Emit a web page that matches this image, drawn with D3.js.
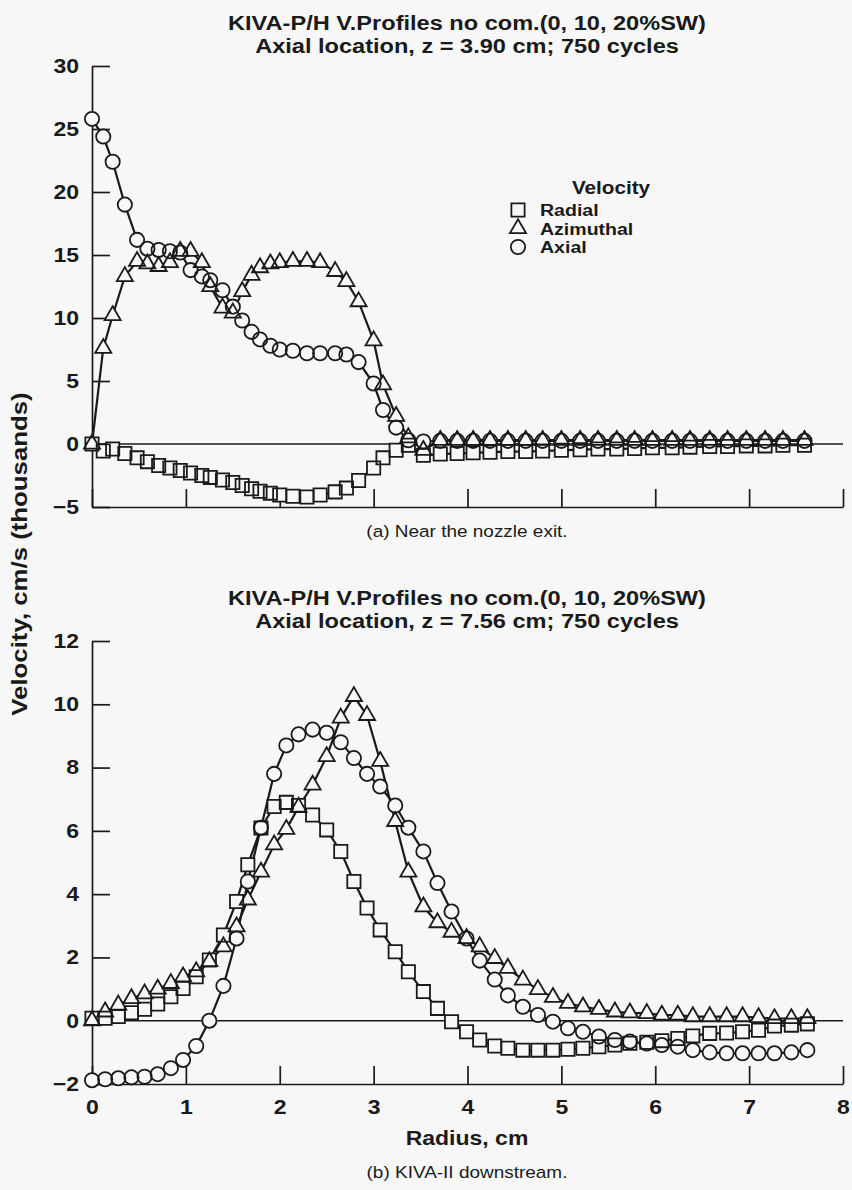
<!DOCTYPE html>
<html>
<head>
<meta charset="utf-8">
<script src="https://cdn.jsdelivr.net/npm/d3@7"></script>
<style>
  body { margin: 0; background: #f7f7f7; }
  text { font-family: "Liberation Sans", Arial, Helvetica, sans-serif; fill: #1a1a1a; }
</style>
</head>
<body>
<svg id="fig" width="852" height="1190"></svg>
<script>
// ---- data ----
// (a) z = 3.90 cm
var radiusTop = [0, 0.12, 0.22, 0.35, 0.48, 0.59, 0.71, 0.83, 0.94, 1.05, 1.17, 1.26, 1.39, 1.50, 1.60,
  1.70, 1.79, 1.90, 2.00, 2.14, 2.29, 2.43, 2.59, 2.71, 2.84, 3.00, 3.10, 3.24, 3.37, 3.53,
  3.71, 3.89, 4.06, 4.24, 4.43, 4.62, 4.80, 5.00, 5.20, 5.39, 5.59, 5.78, 5.97, 6.18, 6.37,
  6.58, 6.77, 6.97, 7.17, 7.36, 7.59];
var radialTop = [0, -0.55, -0.4, -0.75, -1.1, -1.4, -1.7, -1.9, -2.1, -2.3, -2.5, -2.65, -2.85, -3.05, -3.3,
  -3.55, -3.75, -3.9, -4.05, -4.15, -4.2, -4.05, -3.8, -3.5, -2.9, -1.9, -1.1, -0.5, -0.1, -0.9,
  -0.8, -0.75, -0.7, -0.65, -0.6, -0.6, -0.55, -0.5, -0.45, -0.4, -0.4, -0.35, -0.3, -0.3, -0.25,
  -0.2, -0.2, -0.15, -0.15, -0.1, -0.1];
var azimuthalTop = [0, 7.6, 10.2, 13.3, 14.5, 14.3, 14.1, 14.4, 15.3, 15.3, 14.4, 12.5, 10.8, 10.4, 12.1,
  13.4, 14.0, 14.3, 14.4, 14.5, 14.5, 14.4, 13.7, 12.9, 11.3, 8.2, 4.7, 2.2, 0.5, -0.5,
  0.3, 0.3, 0.3, 0.3, 0.3, 0.3, 0.3, 0.3, 0.3, 0.3, 0.3, 0.3, 0.3, 0.3, 0.3,
  0.3, 0.3, 0.3, 0.3, 0.3, 0.3];
var axialTop = [25.8, 24.4, 22.4, 19.0, 16.2, 15.5, 15.4, 15.3, 15.2, 13.8, 13.3, 13.0, 12.2, 10.9, 9.8,
  8.9, 8.3, 7.8, 7.5, 7.4, 7.2, 7.2, 7.2, 7.1, 6.5, 4.8, 2.7, 1.3, 0.3, 0.2,
  0.25, 0.25, 0.25, 0.25, 0.25, 0.25, 0.25, 0.25, 0.25, 0.25, 0.25, 0.25, 0.25, 0.25, 0.25,
  0.25, 0.25, 0.25, 0.25, 0.25, 0.25];

// (b) z = 7.56 cm
var radiusBot = [0, 0.14, 0.28, 0.42, 0.56, 0.70, 0.84, 0.97, 1.11, 1.25, 1.40, 1.54, 1.66, 1.80, 1.94,
  2.07, 2.20, 2.35, 2.50, 2.65, 2.79, 2.93, 3.07, 3.23, 3.37, 3.53, 3.68, 3.83, 3.99, 4.13,
  4.29, 4.43, 4.59, 4.75, 4.91, 5.07, 5.23, 5.40, 5.57, 5.73, 5.91, 6.07, 6.24, 6.40, 6.58,
  6.76, 6.93, 7.10, 7.27, 7.45, 7.62];
var radialBot = [0.08, 0.08, 0.13, 0.25, 0.36, 0.53, 0.76, 1.02, 1.39, 1.92, 2.71, 3.77, 4.93, 6.09, 6.77,
  6.9, 6.8, 6.5, 6.03, 5.35, 4.4, 3.56, 2.87, 2.18, 1.55, 0.92, 0.39, -0.03, -0.35, -0.61,
  -0.8, -0.87, -0.93, -0.93, -0.93, -0.9, -0.87, -0.82, -0.77, -0.71, -0.68, -0.63, -0.56, -0.48, -0.4,
  -0.39, -0.35, -0.3, -0.17, -0.14, -0.1];
var azimuthalBot = [0, 0.28, 0.5, 0.7, 0.85, 1.0, 1.18, 1.39, 1.55, 1.87, 2.34, 2.97, 3.82, 4.7, 5.56,
  6.05, 6.75, 7.45, 8.35, 9.57, 10.25, 9.65, 8.2, 6.3, 4.7, 3.6, 3.1, 2.8, 2.6, 2.34,
  1.97, 1.66, 1.29, 0.99, 0.74, 0.55, 0.44, 0.36, 0.28, 0.25, 0.23, 0.18, 0.18, 0.13, 0.13,
  0.13, 0.13, 0.1, 0.07, 0.07, 0.07];
var axialBot = [-1.88, -1.85, -1.82, -1.79, -1.77, -1.69, -1.5, -1.24, -0.8, 0.0, 1.1, 2.6, 4.4, 6.1, 7.8,
  8.7, 9.05, 9.2, 9.1, 8.8, 8.3, 7.8, 7.4, 6.8, 6.1, 5.35, 4.35, 3.45, 2.6, 1.9,
  1.3, 0.8, 0.44, 0.18, -0.03, -0.24, -0.35, -0.5, -0.61, -0.66, -0.72, -0.77, -0.82, -0.93, -1.0,
  -1.03, -1.03, -1.03, -1.03, -1.0, -0.93];

var xTicks = [0, 1, 2, 3, 4, 5, 6, 7, 8];
var yTicksTop = [-5, 0, 5, 10, 15, 20, 25, 30];
var yTicksBot = [-2, 0, 2, 4, 6, 8, 10, 12];
var seriesNames = ["Radial", "Azimuthal", "Axial"];

// ---- layout ----
var bg = "#f7f7f7", ink = "#1a1a1a";
var svg = d3.select("#fig");
svg.append("rect").attr("width", 852).attr("height", 1190).attr("fill", bg);

var x = d3.scaleLinear().domain([0, 8]).range([92, 843]);
var yTop = d3.scaleLinear().domain([-5, 30]).range([507, 66]);
var yBot = d3.scaleLinear().domain([-2, 12]).range([1084, 641]);

var symbols = {
  Radial: d3.symbol().type(d3.symbolSquare).size(175),
  Azimuthal: d3.symbol().type(d3.symbolTriangle).size(112),
  Axial: d3.symbol().type(d3.symbolCircle).size(160)
};

// the figure's lettering is wider than Liberation Sans, so text is stretched sideways
var stretch = 1.15;

function txt(parent, px, py, str, size, bold, anchor) {
  return parent.append("text")
    .attr("transform", "translate(" + px + "," + py + ") scale(" + stretch + ",1)")
    .attr("text-anchor", anchor || "middle")
    .style("font-size", size + "px")
    .style("font-weight", bold ? "bold" : "normal")
    .text(str);
}

function styleAxis(g, pad) {
  g.select(".domain").attr("stroke", ink).attr("stroke-width", 1.7);
  g.selectAll(".tick line").attr("stroke", ink).attr("stroke-width", 1.7);
  var t = g.selectAll(".tick text")
    .attr("fill", ink)
    .style("font-size", "20px")
    .style("font-weight", "bold")
    .style("font-family", "'Liberation Sans', Arial, sans-serif")
    .attr("transform", "scale(" + stretch + ",1)");
  if (pad) t.attr("x", -pad / stretch);
}

function drawPanel(xs, data, y, yTicks, showXLabels) {
  var g = svg.append("g");

  // zero line
  g.append("line")
    .attr("x1", x(0)).attr("x2", x(8))
    .attr("y1", y(0)).attr("y2", y(0))
    .attr("stroke", ink).attr("stroke-width", 1.6);

  var gx = g.append("g")
    .attr("transform", "translate(0," + y.range()[0] + ")")
    .call(d3.axisBottom(x).tickValues(xTicks).tickSize(-18).tickSizeOuter(0)
      .tickPadding(16)
      .tickFormat(showXLabels ? d3.format("d") : ""));
  styleAxis(gx, 0);

  var gy = g.append("g")
    .attr("transform", "translate(" + x(0) + ",0)")
    .call(d3.axisLeft(y).tickValues(yTicks).tickSize(-18).tickSizeOuter(0).tickPadding(13));
  styleAxis(gy, 13);

  var line = d3.line()
    .x(function(d) { return x(d[0]); })
    .y(function(d) { return y(d[1]); });

  var sets = seriesNames.map(function(name) {
    return { name: name, pts: xs.map(function(r, i) { return [r, data[name][i]]; }) };
  });

  // connecting lines first
  sets.forEach(function(s) {
    g.append("path").datum(s.pts)
      .attr("d", line)
      .attr("fill", "none")
      .attr("stroke", ink)
      .attr("stroke-width", 2.2);
  });
  // marker faces, then all outlines, so overlapping markers stay visible
  sets.forEach(function(s) {
    g.append("g").selectAll("path").data(s.pts).enter().append("path")
      .attr("d", symbols[s.name])
      .attr("transform", function(d) { return "translate(" + x(d[0]) + "," + y(d[1]) + ")"; })
      .attr("fill", bg);
  });
  sets.forEach(function(s) {
    g.append("g").selectAll("path").data(s.pts).enter().append("path")
      .attr("d", symbols[s.name])
      .attr("transform", function(d) { return "translate(" + x(d[0]) + "," + y(d[1]) + ")"; })
      .attr("fill", "none")
      .attr("stroke", ink)
      .attr("stroke-width", 1.8);
  });
  return g;
}

drawPanel(radiusTop, { Radial: radialTop, Azimuthal: azimuthalTop, Axial: axialTop }, yTop, yTicksTop, false);
drawPanel(radiusBot, { Radial: radialBot, Azimuthal: azimuthalBot, Axial: axialBot }, yBot, yTicksBot, true);

// titles
txt(svg, 467, 30, "KIVA-P/H V.Profiles no com.(0, 10, 20%SW)", 20.5, true);
txt(svg, 467, 53, "Axial location, z = 3.90 cm; 750 cycles", 20.5, true);
txt(svg, 467, 605, "KIVA-P/H V.Profiles no com.(0, 10, 20%SW)", 20.5, true);
txt(svg, 467, 628, "Axial location, z = 7.56 cm; 750 cycles", 20.5, true);

// captions
txt(svg, 467, 537, "(a) Near the nozzle exit.", 16.5, false);
txt(svg, 467, 1178, "(b) KIVA-II downstream.", 16.5, false);

// axis titles
txt(svg, 467, 1145, "Radius, cm", 20, true);
svg.append("text")
  .attr("transform", "translate(27,554) rotate(-90) scale(1.2,1)")
  .attr("text-anchor", "middle")
  .style("font-size", "21.5px").style("font-weight", "bold")
  .text("Velocity, cm/s (thousands)");

// legend
var legend = svg.append("g");
txt(legend, 611, 194, "Velocity", 18, true);
var items = legend.selectAll("g.item").data(seriesNames).enter().append("g")
  .attr("transform", function(d, i) { return "translate(518," + (210 + i * 18.5) + ")"; });
items.append("path").attr("d", function(d) { return symbols[d](); })
  .attr("fill", "none").attr("stroke", ink).attr("stroke-width", 1.8);
items.each(function(d) { txt(d3.select(this), 22, 6, d, 17, true, "start"); });
</script>
</body>
</html>
